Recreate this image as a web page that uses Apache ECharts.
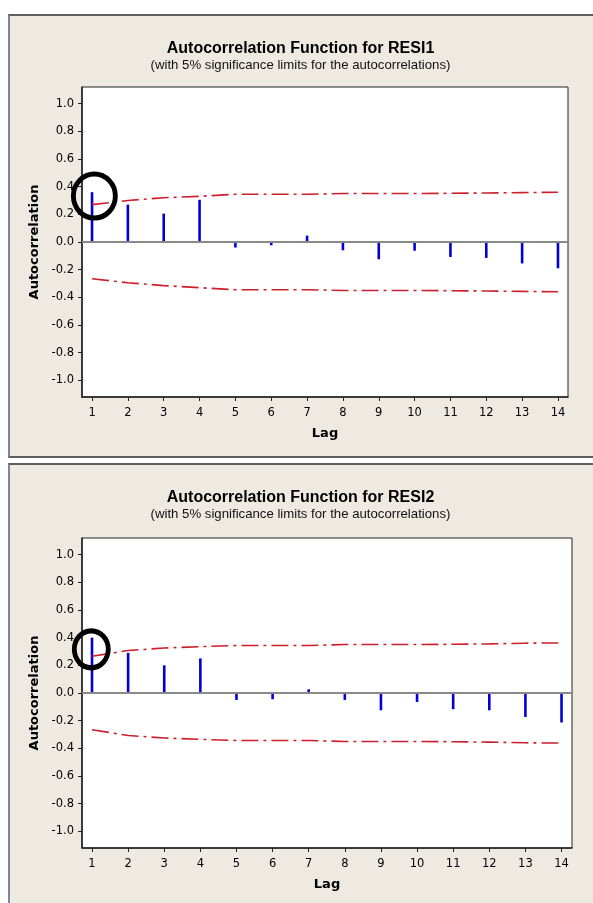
<!DOCTYPE html>
<html>
<head>
<meta charset="utf-8">
<script src="https://cdn.jsdelivr.net/npm/echarts@6/dist/echarts.min.js"></script>
<style>
  html, body { margin: 0; padding: 0; background: #fff; overflow: hidden; }
  body { width: 593px; height: 903px; position: relative; }
  .panel {
    position: absolute;
    left: 8px;
    width: 600px;
    background: #eeeae1;
    border: 2px solid #5f5f5f;
    border-left-color: #7d879c;
  }
  #panel1 { top: 14px; height: 440px; }
  #panel2 { top: 463px; height: 460px; }
  .chart { position: absolute; left: 8px; width: 585px; }
  #chart1 { top: 14px; height: 444px; }
  #chart2 { top: 463px; height: 440px; }
</style>
</head>
<body>
<div class="panel" id="panel1"></div>
<div class="panel" id="panel2"></div>
<div class="chart" id="chart1"></div>
<div class="chart" id="chart2"></div>
<script>
// lags and y tick positions
const lags = [1, 2, 3, 4, 5, 6, 7, 8, 9, 10, 11, 12, 13, 14];
const yTicks = [-1.0, -0.8, -0.6, -0.4, -0.2, 0.0, 0.2, 0.4, 0.6, 0.8, 1.0];

// RESI1
const acf1 = [0.36, 0.27, 0.205, 0.305, -0.04, -0.024, 0.046, -0.06, -0.125, -0.063, -0.108, -0.115, -0.155, -0.19];
const upper1 = [0.27, 0.30, 0.32, 0.33, 0.345, 0.345, 0.345, 0.35, 0.35, 0.35, 0.352, 0.354, 0.357, 0.36];
const lower1 = [-0.265, -0.295, -0.315, -0.33, -0.345, -0.345, -0.345, -0.35, -0.35, -0.35, -0.352, -0.354, -0.357, -0.36];
const mark1 = [1.065, 0.332];

// RESI2
const acf2 = [0.40, 0.29, 0.20, 0.25, -0.05, -0.045, 0.027, -0.05, -0.125, -0.065, -0.117, -0.125, -0.173, -0.213];
const upper2 = [0.265, 0.307, 0.325, 0.335, 0.343, 0.343, 0.343, 0.35, 0.35, 0.35, 0.352, 0.355, 0.36, 0.362];
const lower2 = [-0.265, -0.307, -0.325, -0.335, -0.343, -0.343, -0.343, -0.35, -0.35, -0.35, -0.352, -0.355, -0.36, -0.362];
const mark2 = [0.98, 0.316];

const pairs = (ys) => lags.map((l, i) => [l, ys[i]]);
const limitStyle = { color: "#cc1f2c", width: 1.6, type: [17, 5, 3, 5] };

function makeChart(id, name, acf, upper, lower, mark, markSize, g) {
  const chart = echarts.init(document.getElementById(id));
  const option = {
    animation: false,
    title: {
      text: "Autocorrelation Function for " + name,
      subtext: "(with 5% significance limits for the autocorrelations)",
      left: "center",
      top: 22,
      itemGap: 2,
      textStyle: { fontFamily: "Liberation Sans", fontWeight: "bold", fontSize: 16, color: "#000" },
      subtextStyle: { fontFamily: "Liberation Sans", fontSize: 13.2, color: "#111" },
    },
    grid: {
      left: g.left, top: g.top, width: g.width, height: 310,
      show: true, backgroundColor: "#fff", borderColor: "#222", borderWidth: 1,
    },
    xAxis: {
      type: "value",
      min: g.xmin, max: g.xmax,
      name: "Lag",
      nameLocation: "middle",
      nameGap: 30,
      nameTextStyle: { fontFamily: "DejaVu Sans", fontWeight: "bold", fontSize: 13, color: "#000" },
      axisLine: { show: true, onZero: false, lineStyle: { color: "#222", width: 1.5 } },
      axisTick: { show: true, customValues: lags, length: 4, lineStyle: { color: "#222" } },
      axisLabel: { customValues: lags, margin: 10, fontFamily: "DejaVu Sans", fontSize: 11.5, color: "#000" },
      splitLine: { show: false },
    },
    yAxis: {
      type: "value",
      min: -1.12, max: 1.12,
      name: "Autocorrelation",
      nameLocation: "middle",
      nameRotate: 90,
      nameGap: 35,
      nameTextStyle: { fontFamily: "DejaVu Sans", fontWeight: "bold", fontSize: 13, color: "#000" },
      axisLine: { show: true, onZero: false, lineStyle: { color: "#222", width: 1.5 } },
      axisTick: { show: true, customValues: yTicks, length: 4, lineStyle: { color: "#222" } },
      axisLabel: {
        customValues: yTicks, margin: 8, fontFamily: "DejaVu Sans", fontSize: 11.5, color: "#000",
        formatter: (v) => v.toFixed(1),
      },
      splitLine: { show: false },
    },
    series: [
      {
        type: "bar",
        data: pairs(acf),
        barWidth: 2.6,
        itemStyle: { color: "#0000d4" },
        silent: true,
        z: 3,
        markLine: {
          silent: true,
          symbol: "none",
          label: { show: false },
          lineStyle: { color: "#8a8a8a", width: 2, type: "solid" },
          data: [{ yAxis: 0 }],
        },
      },
      {
        type: "line",
        data: pairs(upper),
        symbol: "none",
        lineStyle: limitStyle,
        z: 4,
      },
      {
        type: "line",
        data: pairs(lower),
        symbol: "none",
        lineStyle: limitStyle,
        z: 4,
      },
      {
        type: "scatter",
        data: [mark],
        symbol: "circle",
        symbolSize: markSize,
        itemStyle: { color: "rgba(0,0,0,0)", borderColor: "#000", borderWidth: 5, opacity: 1 },
        silent: true,
        z: 6,
      },
    ],
  };
  chart.setOption(option);
  return chart;
}

makeChart("chart1", "RESI1", acf1, upper1, lower1, mark1, [42, 44],
  { left: 74, top: 73, width: 486, xmin: 0.72, xmax: 14.28 });
makeChart("chart2", "RESI2", acf2, upper2, lower2, mark2, [34, 37],
  { left: 74, top: 75, width: 490, xmin: 0.723, xmax: 14.29 });
</script>
</body>
</html>
